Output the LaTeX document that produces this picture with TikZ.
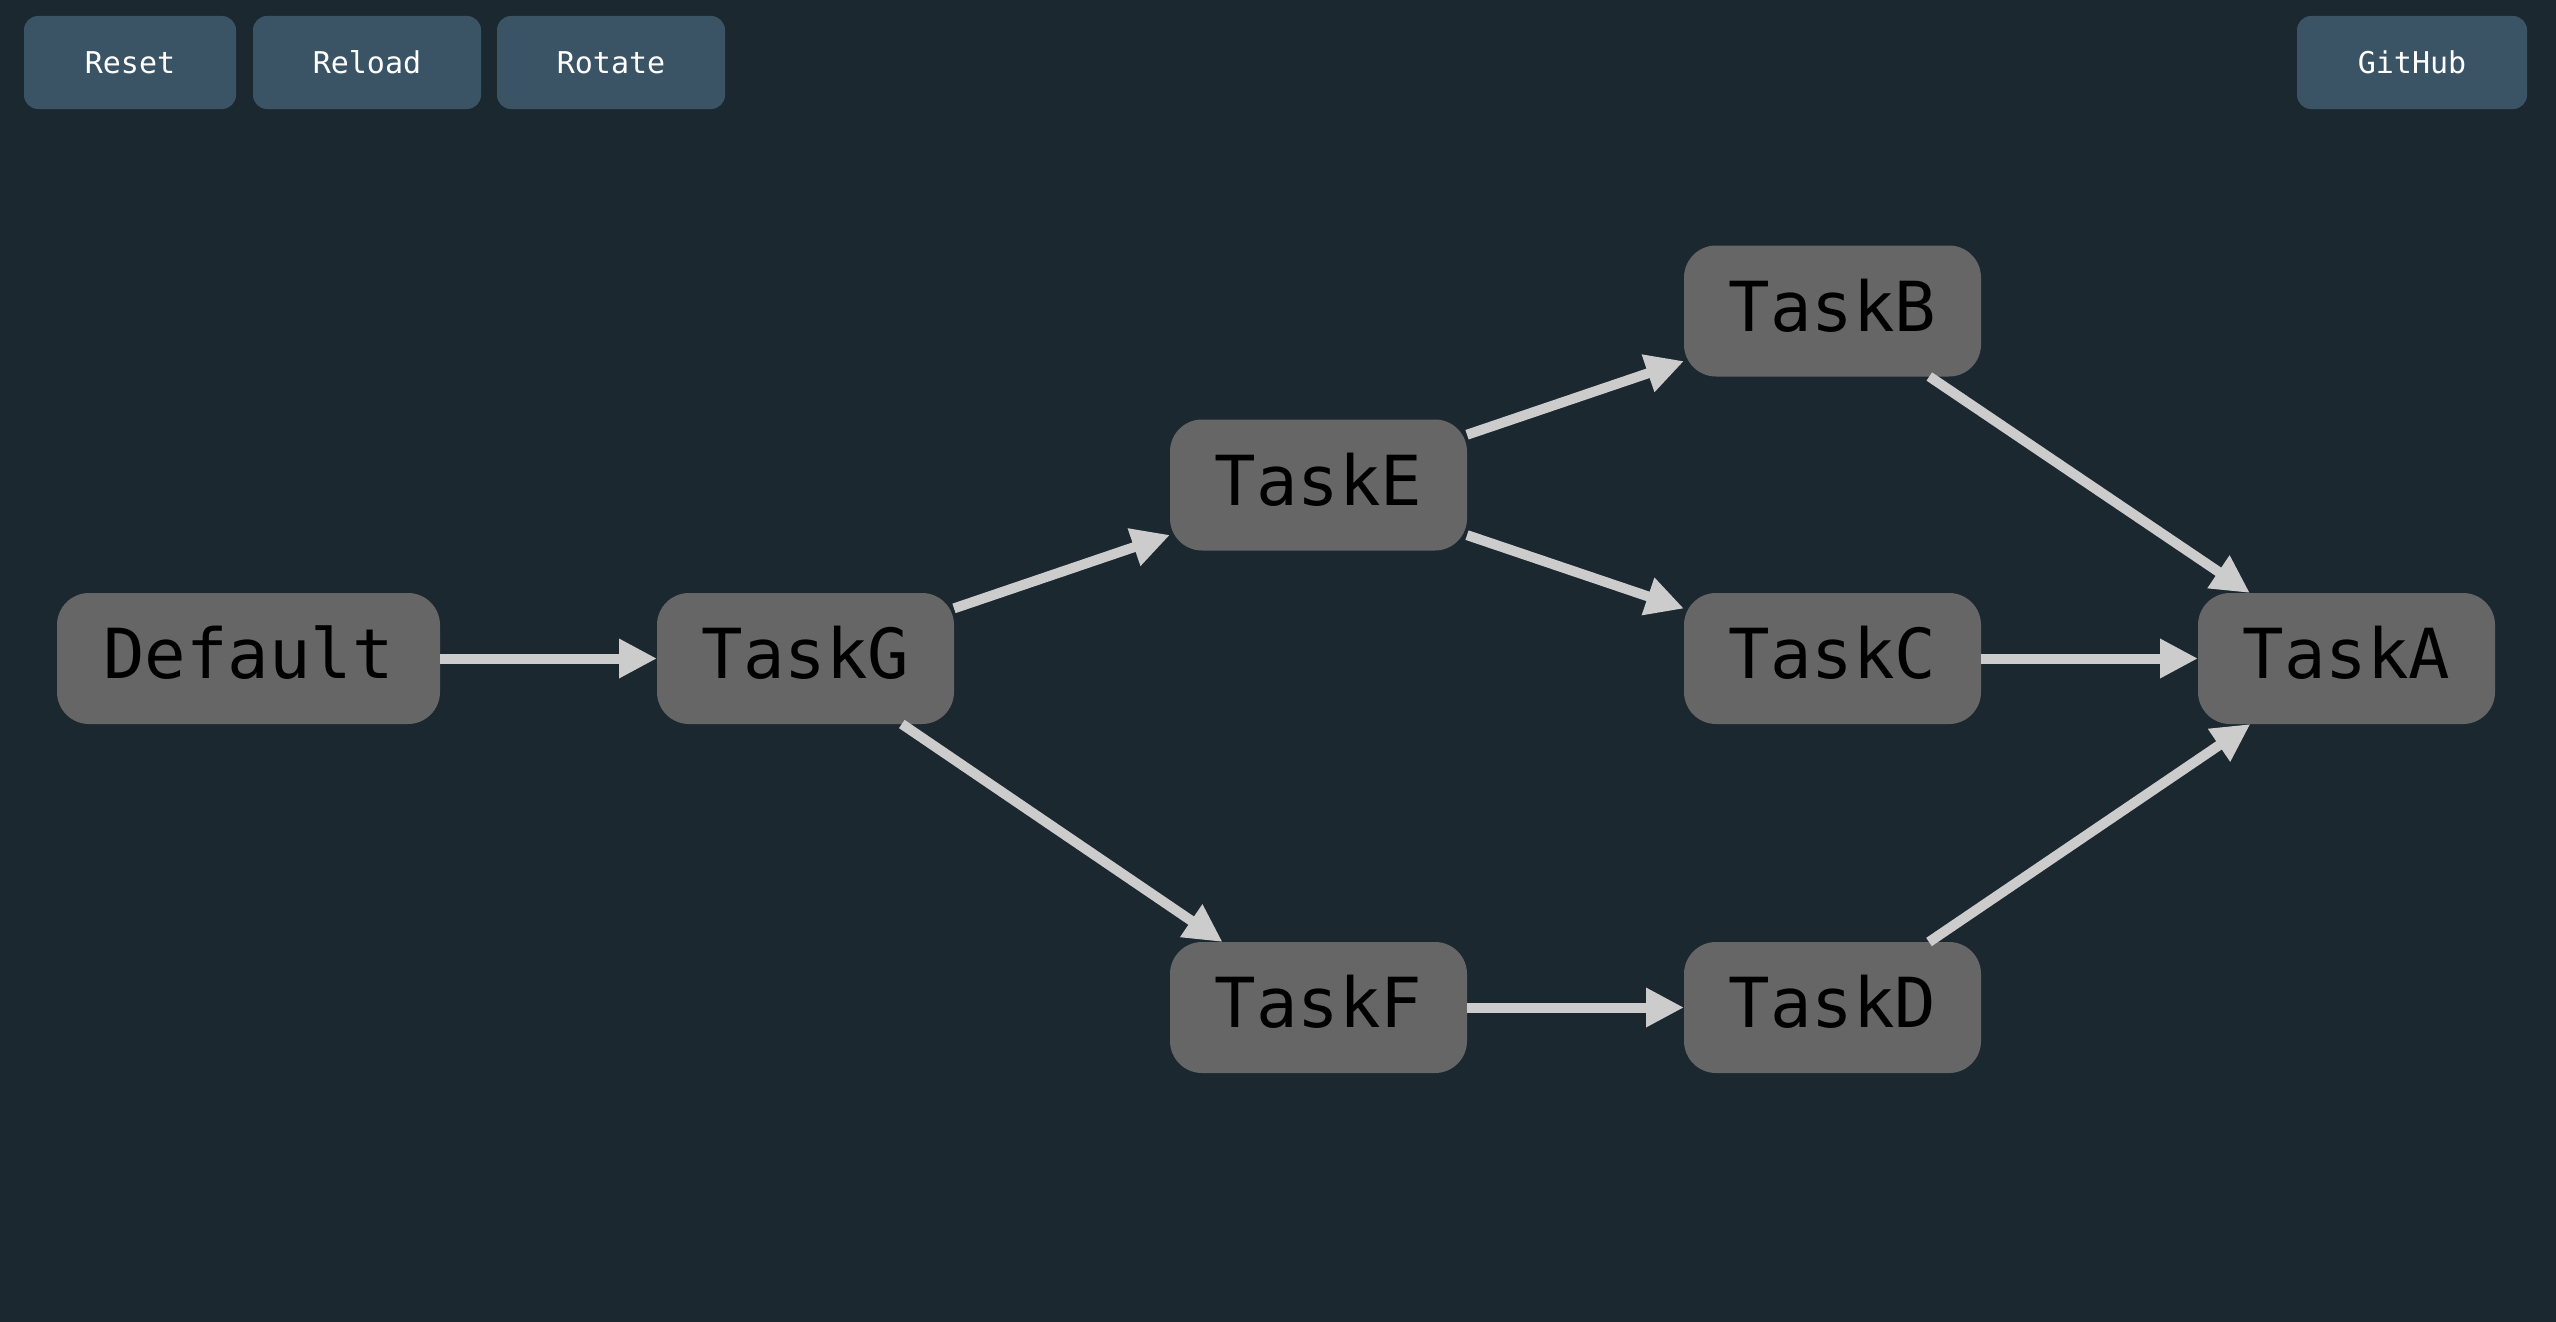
\documentclass[tikz,border=0pt]{standalone}
\usepackage{fontspec}
\newfontfamily\monofont{DejaVu Sans Mono}
\usetikzlibrary{arrows.meta}
\definecolor{bgcol}{RGB}{28,40,48}
\definecolor{btncol}{RGB}{58,84,102}
\definecolor{nodecol}{RGB}{102,102,102}
\definecolor{edgecol}{RGB}{204,204,204}
\tikzset{
  btn/.style={fill=btncol, rounded corners=14pt, minimum height=93pt, text=white, inner sep=0pt, outer sep=0pt, font=\monofont\fontsize{30}{36}\selectfont},
  task/.style={fill=nodecol, rounded corners=32pt, minimum width=297pt, minimum height=131pt, text=black, inner sep=0pt, outer sep=0pt, text height=50pt, text depth=10pt, font=\monofont\fontsize{69}{80}\selectfont},
  dep/.style={draw=edgecol, line width=10pt, -{Triangle[length=38pt,width=37pt]}},
}
\begin{document}
\begin{tikzpicture}[x=1pt,y=-1pt]
\fill[bgcol] (0,0) rectangle (2556,1322);
\useasboundingbox (0,0) rectangle (2556,1322);
% buttons
\node[btn, minimum width=212pt] (reset) at (130,62.5) {Reset};
\node[btn, minimum width=228pt] (reload) at (367,62.5) {Reload};
\node[btn, minimum width=228pt] (rotate) at (611,62.5) {Rotate};
\node[btn, minimum width=230pt] (github) at (2412,62.5) {GitHub};
% tasks
\node[task, minimum width=383pt] (def) at (248.5,658.5) {Default};
\node[task] (G) at (805.5,658.5) {TaskG};
\node[task] (E) at (1318.5,485) {TaskE};
\node[task] (F) at (1318.5,1007.5) {TaskF};
\node[task] (B) at (1832.5,311) {TaskB};
\node[task] (C) at (1832.5,658.5) {TaskC};
\node[task] (D) at (1832.5,1007.5) {TaskD};
\node[task] (A) at (2346.5,658.5) {TaskA};
% edges
\draw[dep] (def) -- (G);
\draw[dep] (G) -- (E);
\draw[dep] (G) -- (F);
\draw[dep] (E) -- (B);
\draw[dep] (E) -- (C);
\draw[dep] (F) -- (D);
\draw[dep] (B) -- (A);
\draw[dep] (C) -- (A);
\draw[dep] (D) -- (A);
\end{tikzpicture}
\end{document}
